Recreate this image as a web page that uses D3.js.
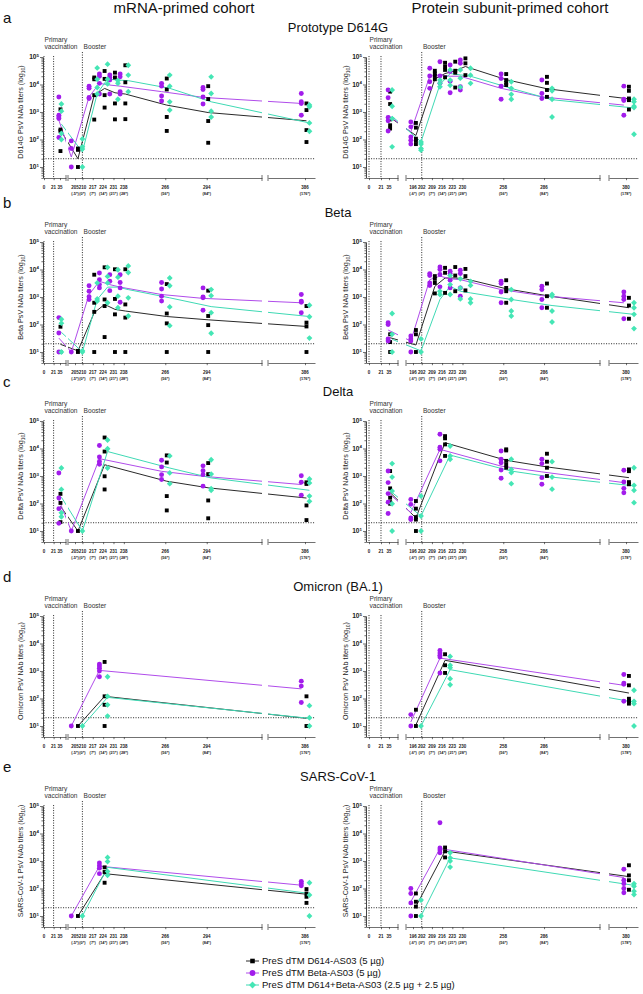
<!DOCTYPE html>
<html><head><meta charset="utf-8">
<script src="https://cdn.jsdelivr.net/npm/d3@7"></script>
<style>body{margin:0;background:#fff;} svg{display:block;font-family:"Liberation Sans",Arial,sans-serif;}</style>
</head><body><svg id="c" width="643" height="994"></svg>
<script>
// ---------------- DATA ----------------
const seriesKeys = ["black", "purple", "green"];
const seriesLabels = ["PreS dTM D614-AS03 (5 µg)", "PreS dTM Beta-AS03 (5 µg)", "PreS dTM D614+Beta-AS03 (2.5 µg + 2.5 µg)"];
const variants = ["Prototype D614G", "Beta", "Delta", "Omicron (BA.1)", "SARS-CoV-1"];
const yTitles = ["D614G PsV NAb titers", "Beta PsV NAb titers", "Delta PsV NAb titers", "Omicron PsV NAb titers", "SARS-CoV-1 PsV NAb titers"];
const panelLetters = ["a", "b", "c", "d", "e"];
const cohortTitles = ["mRNA-primed cohort", "Protein subunit-primed cohort"];

const mrnaDays = [35, 205, 217, 224, 231, 238, 266, 294, 386];
const protDays = [35, 196, 209, 216, 223, 230, 258, 286, 380];
const mrnaPreDays = {black: 206, purple: 205, green: 207};
const protPreDays = {black: 196, purple: 196, green: 196};
const mrnaTickDays = [0, 21, 35, 205, 210, 217, 224, 231, 238, 266, 294, 386];
const mrnaTickSub = ["", "", "", "(-5*)", "(0*)", "(7*)", "(14*)", "(21*)", "(28*)", "(56*)", "(84*)", "(176*)"];
const protTickDays = [0, 21, 35, 196, 202, 209, 216, 223, 230, 258, 286, 380];
const protTickSub = ["", "", "", "(-6*)", "(0*)", "(7*)", "(14*)", "(21*)", "(28*)", "(56*)", "(84*)", "(178*)"];
const yTickValues = [10, 100, 1000, 10000, 100000];
const yTickExps = ["1", "2", "3", "4", "5"];
const lod = 20;
const primeDays = [0, 21];
const boosterDays = [210, 202];

// Panel a — D614G
const a_m_black_pts = [[1250,230,205,38],[47,42,10],[18000,15500,4100,530],[31000,16000,4100,1450],[27000,18000,2050,540],[50000,12000,2050,550],[16500,6600,660,205],[8700,2950,470,76],[2050,1175,220,81]];
const a_m_black_gm = [220,20,4100,7200,5000,4500,1780,955,480];
const a_m_purple_pts = [[3500,760,660,575,118],[89,47,10],[8700,7300,3400,3100],[24000,20000,11000,4500],[22000,18000,14500,4500],[24000,19000,5500,4500],[11000,8700,3800,2500],[7800,6600,3500,1950],[4700,2350,2050,760]];
const a_m_purple_gm = [500,23,3550,11000,9550,8700,5500,3400,2050];
const a_m_green_pts = [[1950,1070,165,100],[105,54,45,10],[40000,15500,7800,4500],[55000,15500,10500],[14000,11000,2900],[50000,22000,5500],[22000,8700,2350,1175],[19000,4700,1070,660],[1800,1550,400,200]];
const a_m_green_gm = [363,35,4700,15800,14500,13800,7250,2350,400];

const a_p_black_pts = [[5500,1950,540,330,250],[400,270,107,90,68],[31600,25000,20400,15500],[61700,44700,33900,18200],[67600,31600,26900,7760],[89100,58900,21900],[24000,14500,11500,9550],[19000,11500,6300,3550],[8300,5900,3100,2700,1230]];
const a_p_black_gm = [630,140,15800,25000,31600,45000,15000,7000,3000];
const a_p_purple_pts = [[6300,3300,630,480,204],[437,288,123,93,68],[39000,20400,12600,7250],[67600,20400,11000],[51300,29500,13200,5000],[77600,58900,8300,6300],[24000,16600,8700,2900],[14500,4700,3100],[8700,2900,2600,760]];
const a_p_purple_gm = [760,190,20000,22400,20000,20000,7250,3550,1780];
const a_p_green_pts = [[6300,1620,575,54],[81,68,47,41],[14500,11000,8300],[33900,14500,9300],[33900,17000,8000],[38900,21900,11000],[12600,7250,4400,2900],[7250,5900,2900,660],[2900,2350,1620,1450,155]];
const a_p_green_gm = [700,82,10000,25000,22400,20000,7250,2800,1400];

// Panel b — Beta
const b_m_black_pts = [[83,10],[11,10],[6460,617,288,10],[12000,813,468,35],[10200,851,234,10],[10200,537,178,10],[2950,251,110,10],[1700,204,95,10],[468,117,85,10]];
const b_m_black_gm = [19,11,269,537,355,309,195,148,85];
const b_m_purple_pts = [[178,49,10],[10],[2570,1620,1020,813],[7410,4270,2820,2140],[6460,3720,1700],[6460,3390,2140,646],[3390,1950,1070,708],[2140,1000,933,331],[1230,708,646,269]];
const b_m_purple_gm = [32,10,1230,3720,2820,2290,1230,891,617];
const b_m_green_pts = [[155,112,10],[11,10],[3240,851,708],[12000,5620,3240,617],[9770,5250,1070,407],[13500,7760,933,204],[4900,2570,437,91],[1860,1120,269,48],[501,191,32]];
const b_m_green_gm = [52,10,813,2290,2290,1860,933,447,195];

const b_p_black_pts = [[44,23,10],[63,44,10],[5750,4570,3240,1350],[11500,7590,1410],[12300,6030,1620],[10500,5750,1740],[4070,2140,1620,617],[3090,1070,407],[933,490,162]];
const b_p_black_gm = [33,18,2450,4900,4900,4570,2000,1120,407];
const b_p_purple_pts = [[115,100,30,25],[38,30,25,10],[7080,6030,3240,2630],[12300,10000,6610,2340],[8710,7080,4070,2140],[9330,7080,2140,1070],[3720,3090,1510,617],[2450,1860,813,407],[1510,1070,813,162]];
const b_p_purple_gm = [63,25,4270,5750,4570,4270,1860,1120,617];
const b_p_green_pts = [[251,44,10],[30,10],[1620,1230],[6030,2820,1230],[4570,2140,851],[3720,2630,851,617],[1860,813,309,204],[1230,1070,309,123],[617,407,234,71]];
const b_p_green_gm = [29,11,813,2450,1620,1410,813,490,234];

// Panel c — Delta
const c_m_black_pts = [[224,105,21],[10],null,[25100,7760,977,324],null,null,[5620,3090,186,56],[2950,1170,129,29],[589,513,85,25]];
const c_m_black_gm = [79,10,null,2570,null,null,646,372,158];
const c_m_purple_pts = [[1290,158,65,19],[10],null,[12900,4900,3390,2690],null,null,[3720,2140,1120,741],[2340,1550,1120,427],[1020,589,200]];
const c_m_purple_gm = [138,10,null,4270,null,null,1480,977,490];
const c_m_green_pts = [[1950,324,46,33],[10],null,[20400,9770,1950],null,null,[5370,1290,525],[3890,1170,347,302],[776,562,186,120]];
const c_m_green_gm = [170,10,null,7760,null,null,1950,851,302];

const c_p_black_pts = [[1510,355,162,112,98],[123,65,32,26,10],null,[28200,23400,14100,5370],null,null,[9330,8500,3550,2630,2000],[6460,3310,2000,1000],[1740,1500,600,500]];
const c_p_black_gm = [250,30,null,16200,null,null,3720,2140,871];
const c_p_purple_pts = [[1510,575,229,112,43],[141,93,30,26],null,[33100,11200,9330,3550],null,null,[8130,4070,3020,1660,832],[4070,2820,871,501],[1620,603,355,245]];
const c_p_purple_gm = [245,47,null,9330,null,null,2290,1410,575];
const c_p_green_pts = [[2820,912,282,98,10],[186,35,10],null,[12300,5370,4070],null,null,[4070,1740,1320,525],[3310,912,331],[2000,457,302,107]];
const c_p_green_gm = [250,35,null,5750,null,null,1510,912,437];

// Panel d — Omicron (BA.1)
const d_m_black_pts = [null,[10],null,[2140,120,59,10],null,null,null,null,[120,10]];
const d_m_black_gm = [null,10,null,120,null,null,null,null,19];
const d_m_purple_pts = [null,[10],null,[1780,1510,1260,1000,617],null,null,null,null,[427,282,72]];
const d_m_purple_gm = [null,10,null,1050,null,null,null,null,224];
const d_m_green_pts = [null,[10],null,[617,120,59,23],null,null,null,null,[55,20,10]];
const d_m_green_gm = [null,10,null,110,null,null,null,null,19];

const d_p_black_pts = [null,[39,10],null,[4070,1620,851],null,null,null,null,[661,302,98,81,65]];
const d_p_black_gm = [null,11,null,2450,null,null,null,null,158];
const d_p_purple_pts = [null,[26,10],null,[5620,4470,3720,3240,851],null,null,null,null,[741,363,331,79]];
const d_p_purple_gm = [null,14,null,2950,null,null,null,null,302];
const d_p_green_pts = [null,[10],null,[3390,1620,1320,525,316],null,null,null,null,[200,79,65,10]];
const d_p_green_gm = [null,10,null,1120,null,null,null,null,74];

// Panel e — SARS-CoV-1
const e_m_black_pts = [null,[10],null,[589,398,162],null,null,null,null,[95,66,50,30]];
const e_m_black_gm = [null,10,null,347,null,null,null,null,62];
const e_m_purple_pts = [null,[10],null,[851,676,550,347],null,null,null,null,[182,151,126]];
const e_m_purple_gm = [null,10,null,646,null,null,null,null,132];
const e_m_green_pts = [null,[10],null,[1350,955,417,302],null,null,null,null,[162,58,10]];
const e_m_green_gm = [null,10,null,589,null,null,null,null,66];

const e_p_black_pts = [null,[66,33,22,10],null,[3090,2240,1350],null,null,null,null,[700,300,200,90]];
const e_p_black_gm = [null,22,null,2300,null,null,null,null,270];
const e_p_purple_pts = [null,[100,66,30,10],null,[24500,3000,2500,2000],null,null,null,null,[500,200,150,100,70]];
const e_p_purple_gm = [null,33,null,2820,null,null,null,null,251];
const e_p_green_pts = [null,[38,10],null,[2000,1300,1000,600],null,null,null,null,[150,120,80,60]];
const e_p_green_gm = [null,10,null,1300,null,null,null,null,130];

const panelData = [
  [{black:[a_m_black_pts,a_m_black_gm], purple:[a_m_purple_pts,a_m_purple_gm], green:[a_m_green_pts,a_m_green_gm]},
   {black:[a_p_black_pts,a_p_black_gm], purple:[a_p_purple_pts,a_p_purple_gm], green:[a_p_green_pts,a_p_green_gm]}],
  [{black:[b_m_black_pts,b_m_black_gm], purple:[b_m_purple_pts,b_m_purple_gm], green:[b_m_green_pts,b_m_green_gm]},
   {black:[b_p_black_pts,b_p_black_gm], purple:[b_p_purple_pts,b_p_purple_gm], green:[b_p_green_pts,b_p_green_gm]}],
  [{black:[c_m_black_pts,c_m_black_gm], purple:[c_m_purple_pts,c_m_purple_gm], green:[c_m_green_pts,c_m_green_gm]},
   {black:[c_p_black_pts,c_p_black_gm], purple:[c_p_purple_pts,c_p_purple_gm], green:[c_p_green_pts,c_p_green_gm]}],
  [{black:[d_m_black_pts,d_m_black_gm], purple:[d_m_purple_pts,d_m_purple_gm], green:[d_m_green_pts,d_m_green_gm]},
   {black:[d_p_black_pts,d_p_black_gm], purple:[d_p_purple_pts,d_p_purple_gm], green:[d_p_green_pts,d_p_green_gm]}],
  [{black:[e_m_black_pts,e_m_black_gm], purple:[e_m_purple_pts,e_m_purple_gm], green:[e_m_green_pts,e_m_green_gm]},
   {black:[e_p_black_pts,e_p_black_gm], purple:[e_p_purple_pts,e_p_purple_gm], green:[e_p_green_pts,e_p_green_gm]}]
];

// ---------------- STYLE / LAYOUT ----------------
const fillColors = {black: "#000000", purple: "#A21CEB", green: "#45E6B5"};
const lineColors = {black: "#2a2a2a", purple: "#B04CEA", green: "#3FD9B4"};
const squareDiamond = {
  draw(ctx, size) {
    const h = Math.sqrt(size / 2);
    ctx.moveTo(0, -h); ctx.lineTo(h, 0); ctx.lineTo(0, h); ctx.lineTo(-h, 0); ctx.closePath();
  }
};
const symbols = {black: d3.symbolSquare, purple: d3.symbolCircle, green: squareDiamond};
const symSizes = {black: 15, purple: 19, green: 17};

const tops = [57, 242, 421, 616, 806];
const PLOT_H = 121;
const Y_DOMAIN = [3.981, 100000];

const layouts = [
  {axisX: 43, right: 315, segs: [[[-1.09, 48.1], [43.5, 66]], [[200.27, 331.35], [68, 262]], [[361, 392.76], [268, 315]]],
   titleX: 23, dayOff: {black: 1, purple: -2.5, green: 3}, days: mrnaDays, preDays: mrnaPreDays,
   ticks: mrnaTickDays, subs: mrnaTickSub, booster: boosterDays[0]},
  {axisX: 366, right: 638, segs: [[[-4.38, 50.8], [366.5, 398]], [[191.19, 324.43], [406, 600]], [[368.3, 388.24], [609, 638]]],
   titleX: 348, dayOff: {black: 2, purple: -1.5, green: 5.5}, days: protDays, preDays: protPreDays,
   ticks: protTickDays, subs: protTickSub, booster: boosterDays[1]}
];

const svg = d3.select("#c");
const defs = svg.append("defs");

// cohort titles
[184, 510].forEach((cx, i) => {
  svg.append("text").attr("x", cx).attr("y", 13).attr("text-anchor", "middle")
    .attr("font-size", 15).attr("fill", "#111").text(cohortTitles[i]);
});

variants.forEach((vname, pi) => {
  const top = tops[pi];
  const axisY = top + PLOT_H;
  const y = d3.scaleLog().domain(Y_DOMAIN).range([axisY, top]);

  svg.append("text").attr("x", 3).attr("y", top - 34).attr("font-size", 15).attr("fill", "#111").text(panelLetters[pi]);
  svg.append("text").attr("x", 338).attr("y", top - 25).attr("text-anchor", "middle")
    .attr("font-size", 13).attr("fill", "#111").text(vname);

  layouts.forEach((L, ci) => {
    const g = svg.append("g");
    const segScales = L.segs.map(s => d3.scaleLinear().domain(s[0]).range(s[1]));
    const xs = day => {
      for (const s of segScales) { const d = s.domain(); if (day >= d[0] && day <= d[1]) return s(day); }
      return null;
    };

    const cid = `clip-${pi}-${ci}`;
    const cp = defs.append("clipPath").attr("id", cid);
    L.segs.forEach(s => {
      cp.append("rect").attr("x", s[1][0]).attr("y", top - 10).attr("width", s[1][1] - s[1][0]).attr("height", PLOT_H + 12);
    });

    const dotted = "1.1,1.4";
    primeDays.concat([L.booster]).forEach((d, k) => {
      g.append("line").attr("x1", xs(d)).attr("x2", xs(d))
        .attr("y1", k === 2 ? top - 5 : top - 1).attr("y2", axisY)
        .attr("stroke", "#222").attr("stroke-width", 0.9).attr("stroke-dasharray", dotted);
    });
    g.append("line").attr("x1", L.axisX).attr("x2", L.right).attr("y1", y(lod)).attr("y2", y(lod))
      .attr("stroke", "#222").attr("stroke-width", 0.9).attr("stroke-dasharray", dotted);

    const minor = [];
    for (let e = 0; e < 5; e++) for (let m = 2; m <= 9; m++) { const v = m * Math.pow(10, e); if (v >= Y_DOMAIN[0] && v <= 1e5) minor.push(v); }
    const ya1 = g.append("g").attr("transform", `translate(${L.axisX},0)`)
      .call(d3.axisLeft(y).tickValues(minor).tickSize(1.6).tickSizeOuter(0).tickFormat(""));
    const ya2 = g.append("g").attr("transform", `translate(${L.axisX},0)`)
      .call(d3.axisLeft(y).tickValues(yTickValues).tickSize(3).tickSizeOuter(0).tickFormat(""));
    [ya1, ya2].forEach(a => { a.selectAll("path,line").attr("stroke", "#333").attr("stroke-width", 0.7); a.attr("font-size", null).attr("font-family", null); });
    yTickValues.forEach((v, k) => {
      const t = g.append("text").attr("x", L.axisX - 4).attr("y", y(v) + 2.3).attr("text-anchor", "end")
        .attr("font-size", 6.6).attr("font-weight", "bold").attr("fill", "#222");
      t.append("tspan").text("10");
      t.append("tspan").attr("font-size", 4.4).attr("dy", -2.6).text(yTickExps[k]);
    });

    const yt = g.append("text").attr("transform", `translate(${L.titleX},${top + 55}) rotate(-90)`)
      .attr("text-anchor", "middle").attr("font-size", 7.2).attr("fill", "#222");
    yt.append("tspan").text(yTitles[pi] + " (log");
    yt.append("tspan").attr("font-size", 5).attr("dy", 1.6).text("10");
    yt.append("tspan").attr("dy", -1.6).text(")");

    segScales.forEach((s, si) => {
      const dom = s.domain();
      const tv = L.ticks.filter(d => d >= dom[0] && d <= dom[1]);
      const xa = g.append("g").attr("transform", `translate(0,${axisY})`)
        .call(d3.axisBottom(s).tickValues(tv).tickSize(2.2).tickSizeOuter(0).tickFormat(""));
      xa.attr("font-size", null).attr("font-family", null);
      xa.selectAll("path,line").attr("stroke", "#333").attr("stroke-width", 0.7);
      const r = s.range();
      if (si > 0) g.append("line").attr("x1", r[0]).attr("x2", r[0]).attr("y1", axisY - 3).attr("y2", axisY + 3).attr("stroke", "#333").attr("stroke-width", 0.7);
      if (si < 2) g.append("line").attr("x1", r[1]).attr("x2", r[1]).attr("y1", axisY - 3).attr("y2", axisY + 3).attr("stroke", "#333").attr("stroke-width", 0.7);
    });
    L.ticks.forEach((d, k) => {
      g.append("text").attr("x", xs(d)).attr("y", axisY + 10.5).attr("text-anchor", "middle")
        .attr("font-size", 4.5).attr("font-weight", "bold").attr("fill", "#222").text(d);
      if (L.subs[k]) g.append("text").attr("x", xs(d)).attr("y", axisY + 17).attr("text-anchor", "middle")
        .attr("font-size", 3.9).attr("font-weight", "bold").attr("fill", "#222").text(L.subs[k]);
    });

    g.append("text").attr("x", xs(0) + 0.5).attr("y", top - 15).attr("font-size", 6.6).attr("fill", "#333").text("Primary");
    g.append("text").attr("x", xs(0) + 0.5).attr("y", top - 8).attr("font-size", 6.6).attr("fill", "#333").text("vaccination");
    g.append("text").attr("x", xs(L.booster) + 1.2).attr("y", top - 8).attr("font-size", 6.6).attr("fill", "#333").text("Booster");

    const pd = panelData[pi][ci];
    const dayFor = (i, key) => (i === 1 ? L.preDays[key] : L.days[i]);
    const lineGen = d3.line();
    seriesKeys.forEach(key => {
      const gm = pd[key][1];
      const pts = [];
      gm.forEach((v, i) => { if (v != null) pts.push([xs(dayFor(i, key) + L.dayOff[key]), y(v)]); });
      g.append("path").attr("d", lineGen(pts)).attr("fill", "none")
        .attr("stroke", lineColors[key]).attr("stroke-width", 1).attr("clip-path", `url(#${cid})`);
    });
    seriesKeys.forEach(key => {
      const vals = pd[key][0];
      const sym = d3.symbol().type(symbols[key]).size(symSizes[key]);
      vals.forEach((arr, i) => {
        if (!arr) return;
        const x = xs(dayFor(i, key) + L.dayOff[key]);
        arr.forEach(v => {
          g.append("path").attr("d", sym()).attr("transform", `translate(${x},${y(v)})`).attr("fill", fillColors[key]);
        });
      });
    });
  });
});

// legend
const legY = [961, 973, 985];
seriesKeys.forEach((key, k) => {
  const lg = svg.append("g");
  lg.append("line").attr("x1", 246).attr("x2", 259).attr("y1", legY[k]).attr("y2", legY[k])
    .attr("stroke", lineColors[key]).attr("stroke-width", 1);
  lg.append("path").attr("d", d3.symbol().type(symbols[key]).size(symSizes[key] * 1.4)())
    .attr("transform", `translate(252.5,${legY[k]})`).attr("fill", fillColors[key]);
  lg.append("text").attr("x", 262).attr("y", legY[k] + 3.3).attr("font-size", 9.5).attr("fill", "#111").text(seriesLabels[k]);
});
</script></body></html>
